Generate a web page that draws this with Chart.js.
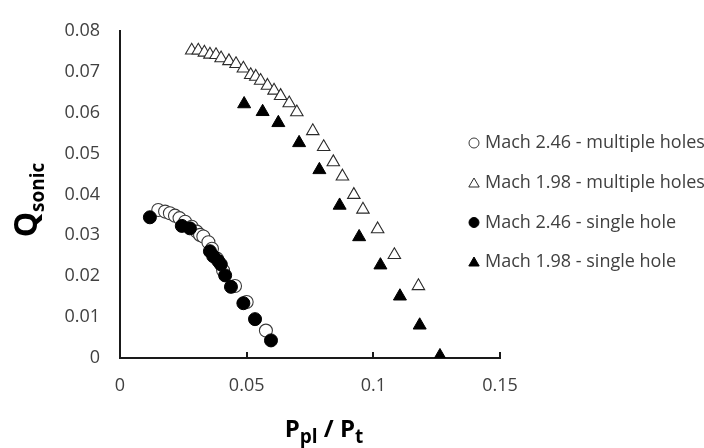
<!DOCTYPE html>
<html>
<head>
<meta charset="utf-8">
<script src="https://cdn.jsdelivr.net/npm/chart.js@4/dist/chart.umd.min.js"></script>
<style>
  html, body { margin: 0; padding: 0; background: #ffffff; }
  #wrap { width: 704px; height: 448px; }
</style>
</head>
<body>
<div id="wrap"><canvas id="c" width="704" height="448"></canvas></div>
<script>
// Series names
const seriesLabels = [
  'Mach 2.46 - multiple holes',
  'Mach 1.98 - multiple holes',
  'Mach 2.46 - single hole',
  'Mach 1.98 - single hole'
];

// Mach 2.46, multiple holes
const m246MultiX = [0.0151, 0.0178, 0.0197, 0.0217, 0.0235, 0.0257, 0.0283, 0.0303, 0.0316, 0.0329, 0.0349, 0.0363, 0.0383, 0.0407, 0.0454, 0.0500, 0.0576];
const m246MultiY = [0.0362, 0.0358, 0.0354, 0.0348, 0.0342, 0.0333, 0.0321, 0.0309, 0.0301, 0.0297, 0.0283, 0.0267, 0.0243, 0.0214, 0.0176, 0.0137, 0.0067];

// Mach 1.98, multiple holes
const m198MultiX = [0.0283, 0.0309, 0.0333, 0.0355, 0.0379, 0.0399, 0.0430, 0.0458, 0.0487, 0.0516, 0.0536, 0.0555, 0.0582, 0.0608, 0.0634, 0.0668, 0.0698, 0.0761, 0.0804, 0.0842, 0.0878, 0.0923, 0.0959, 0.1017, 0.1083, 0.1178];
const m198MultiY = [0.0752, 0.0752, 0.0747, 0.0742, 0.0741, 0.0733, 0.0726, 0.0719, 0.0708, 0.0692, 0.0688, 0.0678, 0.0666, 0.0654, 0.0641, 0.0623, 0.0601, 0.0555, 0.0516, 0.0479, 0.0444, 0.0399, 0.0363, 0.0315, 0.0252, 0.0176];

// Mach 2.46, single hole
const m246SingleX = [0.0118, 0.0244, 0.0276, 0.0355, 0.0368, 0.0388, 0.0398, 0.0415, 0.0438, 0.0487, 0.0533, 0.0596];
const m246SingleY = [0.0344, 0.0323, 0.0317, 0.0261, 0.0249, 0.0237, 0.0229, 0.0202, 0.0174, 0.0134, 0.0095, 0.0043];

// Mach 1.98, single hole
const m198SingleX = [0.0490, 0.0563, 0.0625, 0.0707, 0.0787, 0.0867, 0.0944, 0.1028, 0.1105, 0.1183, 0.1263];
const m198SingleY = [0.0621, 0.0602, 0.0575, 0.0526, 0.0460, 0.0373, 0.0296, 0.0227, 0.0151, 0.0080, 0.0005];

// Axis ranges and tick steps
const xTickValues = [0, 0.05, 0.1, 0.15];
const yTickValues = [0, 0.01, 0.02, 0.03, 0.04, 0.05, 0.06, 0.07, 0.08];

const FONT = '"Open Sans", "DejaVu Sans", sans-serif';
const TEXT = '#404040';

const toPoints = (xs, ys) => xs.map((x, i) => ({ x, y: ys[i] }));

const datasets = [
  { label: seriesLabels[0], data: toPoints(m246MultiX, m246MultiY), pointStyle: 'circle',
    pointRadius: 6.5, backgroundColor: '#ffffff', borderColor: '#3a3a3a', borderWidth: 1.1, order: 4 },
  { label: seriesLabels[1], data: toPoints(m198MultiX, m198MultiY), pointStyle: 'triangle',
    pointRadius: 7.2, backgroundColor: '#ffffff', borderColor: '#2a2a2a', borderWidth: 1.1, order: 3 },
  { label: seriesLabels[2], data: toPoints(m246SingleX, m246SingleY), pointStyle: 'circle',
    pointRadius: 6.5, backgroundColor: '#000000', borderColor: '#000000', borderWidth: 1, order: 2 },
  { label: seriesLabels[3], data: toPoints(m198SingleX, m198SingleY), pointStyle: 'triangle',
    pointRadius: 7.5, backgroundColor: '#000000', borderColor: '#000000', borderWidth: 1, order: 1 }
];

// Small upward tick marks on the x axis, axis titles with subscripts, and the legend
const decorations = {
  id: 'decorations',
  afterDraw(chart) {
    const ctx = chart.ctx;
    const xs = chart.scales.x;
    const area = chart.chartArea;
    ctx.save();

    // x-axis tick marks pointing into the plot
    ctx.strokeStyle = '#1a1a1a';
    ctx.lineWidth = 2;
    xTickValues.slice(1).forEach(v => {
      const px = Math.round(xs.getPixelForValue(v));
      ctx.beginPath();
      ctx.moveTo(px, area.bottom);
      ctx.lineTo(px, area.bottom - 6);
      ctx.stroke();
    });

    // x-axis title: P_pl / P_t
    const big = 'bold 24px ' + FONT;
    const sub = 'bold 19px ' + FONT;
    const parts = [
      { t: 'P', f: big, dy: 0 },
      { t: 'pl', f: sub, dy: 6 },
      { t: ' / ', f: big, dy: 0 },
      { t: 'P', f: big, dy: 0 },
      { t: 't', f: sub, dy: 6 }
    ];
    let total = 0;
    parts.forEach(p => { ctx.font = p.f; p.w = ctx.measureText(p.t).width; total += p.w; });
    let x0 = 324 - total / 2;
    ctx.fillStyle = '#000000';
    ctx.textBaseline = 'alphabetic';
    ctx.textAlign = 'left';
    parts.forEach(p => { ctx.font = p.f; ctx.fillText(p.t, x0, 437 + p.dy); x0 += p.w; });

    // y-axis title: Q_sonic, rotated
    const yParts = [
      { t: 'Q', f: 'bold 32px ' + FONT, dy: 0 },
      { t: 'sonic', f: 'bold 19px ' + FONT, dy: 7 }
    ];
    let yTotal = 0;
    yParts.forEach(p => { ctx.font = p.f; p.w = ctx.measureText(p.t).width; yTotal += p.w; });
    ctx.save();
    ctx.translate(37, 200);
    ctx.rotate(-Math.PI / 2);
    let lx = -yTotal / 2;
    yParts.forEach(p => { ctx.font = p.f; ctx.fillText(p.t, lx, p.dy); lx += p.w; });
    ctx.restore();

    // legend
    const rowsY = [143, 183, 222.5, 262];
    ctx.font = '18px ' + FONT;
    ctx.textBaseline = 'middle';
    chart.data.datasets.forEach((ds, i) => {
      const y = rowsY[i];
      const mx = 474;
      ctx.fillStyle = ds.backgroundColor;
      ctx.strokeStyle = ds.borderColor;
      ctx.lineWidth = 1;
      ctx.beginPath();
      if (ds.pointStyle === 'circle') {
        ctx.arc(mx, y, 5, 0, Math.PI * 2);
      } else {
        const r = 6;
        ctx.moveTo(mx, y - r + 1);
        ctx.lineTo(mx + r * 0.866, y + r * 0.5 + 1);
        ctx.lineTo(mx - r * 0.866, y + r * 0.5 + 1);
        ctx.closePath();
      }
      ctx.fill();
      ctx.stroke();
      ctx.fillStyle = TEXT;
      ctx.fillText(ds.label, 485, y);
    });
    ctx.restore();
  }
};

new Chart(document.getElementById('c'), {
  type: 'scatter',
  data: { datasets },
  options: {
    responsive: false,
    animation: false,
    events: [],
    layout: { padding: { top: 22, right: 204, left: 0, bottom: 0 } },
    plugins: { legend: { display: false }, tooltip: { enabled: false } },
    scales: {
      x: {
        type: 'linear', min: 0, max: 0.15,
        afterBuildTicks: s => { s.ticks = xTickValues.map(v => ({ value: v })); },
        afterFit: s => { s.height = 90; },
        grid: { display: false, drawTicks: false },
        border: { display: true, color: '#1a1a1a', width: 2 },
        ticks: { padding: 17, color: TEXT, font: { family: FONT, size: 18 },
                 callback: v => String(+v.toFixed(2)) }
      },
      y: {
        type: 'linear', min: 0, max: 0.08,
        afterBuildTicks: s => { s.ticks = yTickValues.map(v => ({ value: v })); },
        afterFit: s => { s.width = 120; },
        grid: { display: false, drawTicks: false },
        border: { display: true, color: '#1a1a1a', width: 2 },
        ticks: { padding: 20, color: TEXT, font: { family: FONT, size: 18 },
                 callback: v => String(+v.toFixed(2)) }
      }
    }
  },
  plugins: [decorations]
});
</script>
</body>
</html>
